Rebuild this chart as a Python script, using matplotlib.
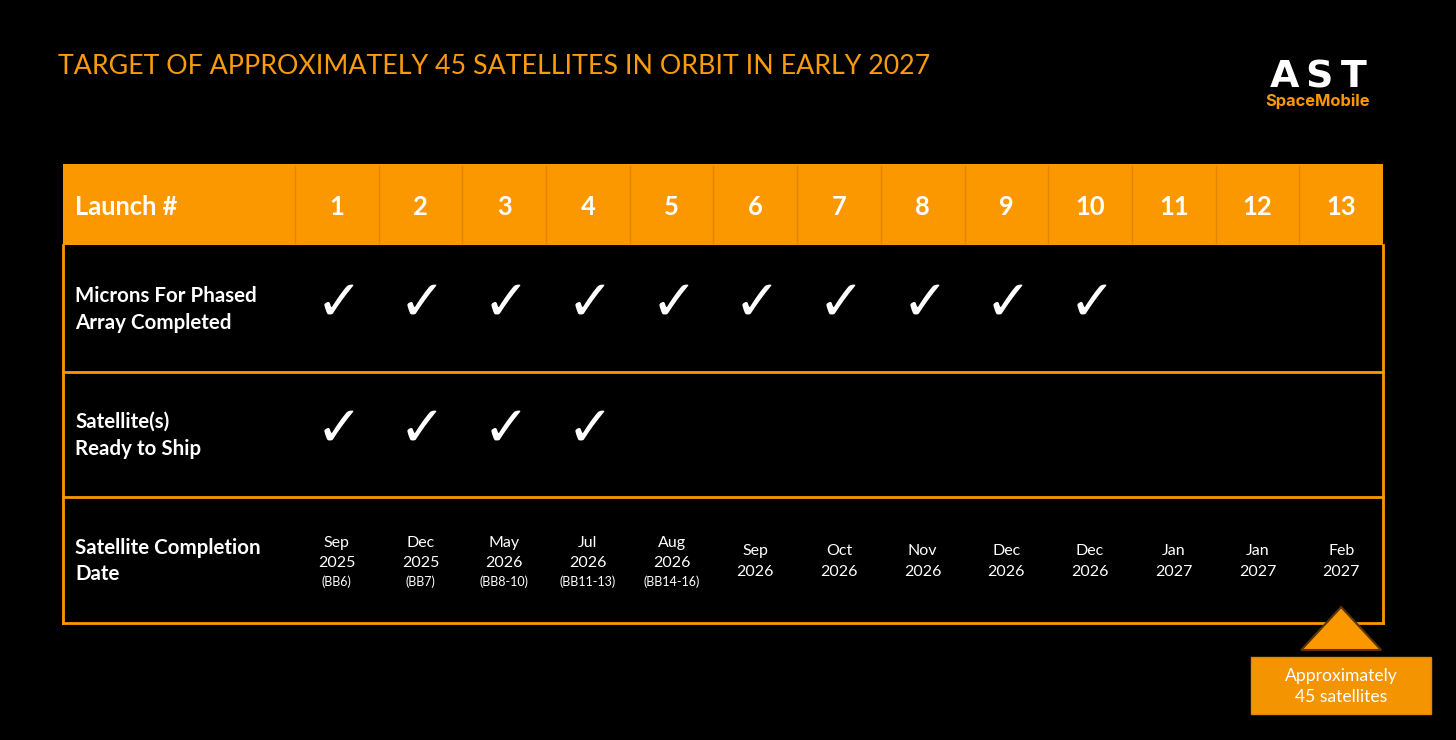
import matplotlib
matplotlib.use("Agg")
import matplotlib.pyplot as plt
from matplotlib.patches import Rectangle, Polygon

plt.rcParams['font.family'] = ['Lato', 'DejaVu Sans']

# ---------------- data ----------------
title = "TARGET OF APPROXIMATELY 45 SATELLITES IN ORBIT IN EARLY 2027"
launches = [str(i) for i in range(1, 14)]
row_labels = [["Microns For Phased", "Array Completed"],
              ["Satellite(s)", "Ready to Ship"],
              ["Satellite Completion", "Date"]]
microns_done = [1, 1, 1, 1, 1, 1, 1, 1, 1, 1, 0, 0, 0]
ready_to_ship = [1, 1, 1, 1, 0, 0, 0, 0, 0, 0, 0, 0, 0]
completion_months = ["Sep", "Dec", "May", "Jul", "Aug", "Sep", "Oct", "Nov",
                     "Dec", "Dec", "Jan", "Jan", "Feb"]
completion_years = ["2025", "2025", "2026", "2026", "2026", "2026", "2026", "2026",
                    "2026", "2026", "2027", "2027", "2027"]
bb_labels = ["(BB6)", "(BB7)", "(BB8-10)", "(BB11-13)", "(BB14-16)",
             "", "", "", "", "", "", "", ""]
callout = ["Approximately", "45 satellites"]
logo_letters = ["A", "S", "T"]

# ---------------- style ----------------
ORANGE = "#FB9800"
TITLE_OR = "#F99B0C"
W, H = 1456, 740
fig = plt.figure(figsize=(W / 100, H / 100), dpi=100, facecolor="black")
ax = fig.add_axes([0, 0, 1, 1])
ax.set_xlim(0, W)
ax.set_ylim(H, 0)
ax.axis("off")
ax.set_facecolor("black")

def pt(px):
    return px * 0.72

# title
ax.text(58, 66, title, color=TITLE_OR, fontsize=pt(26.8), ha="left", va="center")

# logo
for k, ch in enumerate(logo_letters):
    ax.text(1284 + 35 * k, 87, ch, color="white", fontsize=pt(38), fontweight="bold",
            ha="center", va="baseline", family=["DejaVu Sans"])
ax.text(1318, 106, "SpaceMobile", color=ORANGE, fontsize=pt(16.5), fontweight="bold",
        ha="center", va="baseline", family=["Inter", "DejaVu Sans"])

# table geometry
left, right = 63, 1383
ncol = len(launches)
cw = (right - 295) / ncol
header_top, header_bot = 164, 245
row_edges = [245, 372, 497, 623]

def cx(i):
    return 295 + cw * (i + 0.5)

# header
ax.add_patch(Rectangle((left, header_top), right - left, header_bot - header_top,
                       facecolor=ORANGE, edgecolor="none", zorder=1))
for i in range(ncol):
    x = 295 + cw * i
    ax.plot([x, x], [header_top + 2, header_bot - 2], color="#E08700", lw=1.0, zorder=2)
ax.text(75, 207, "Launch #", color="white", fontsize=pt(25.5), fontweight="bold",
        ha="left", va="center", zorder=3)
for i, lab in enumerate(launches):
    ax.text(cx(i), 207, lab, color="white", fontsize=pt(25.5), fontweight="bold",
            ha="center", va="center", zorder=3)

# body border and separators
ax.plot([left, left], [header_bot, row_edges[-1]], color=ORANGE, lw=2, zorder=2)
ax.plot([right, right], [header_bot, row_edges[-1]], color=ORANGE, lw=2, zorder=2)
for y in row_edges[1:]:
    ax.plot([left, right], [y, y], color=ORANGE, lw=2, zorder=2)

# row labels
for r, lines in enumerate(row_labels):
    yc = (row_edges[r] + row_edges[r + 1]) / 2 + 1
    for k, line in enumerate(lines):
        ax.text(75, yc + (k - 0.5) * 27, line, color="white", fontsize=pt(20.5),
                fontweight="bold", ha="left", va="center", zorder=3)

# checkmarks
for r, vals in enumerate([microns_done, ready_to_ship]):
    yc = (row_edges[r] + row_edges[r + 1]) / 2 - 4
    for i, v in enumerate(vals):
        if v:
            ax.text(cx(i) + 2, yc, "\u2713", color="white", fontsize=pt(56),
                    fontweight="bold", ha="center", va="center",
                    family=["DejaVu Sans"], zorder=3)

# completion dates
for i, (m, yr, bb) in enumerate(zip(completion_months, completion_years, bb_labels)):
    if bb:
        ax.text(cx(i), 543, m, color="white", fontsize=pt(16), ha="center", va="center", zorder=3)
        ax.text(cx(i), 563, yr, color="white", fontsize=pt(16), ha="center", va="center", zorder=3)
        ax.text(cx(i), 582, bb, color="white", fontsize=pt(12.5), ha="center", va="center", zorder=3)
    else:
        ax.text(cx(i), 551, m, color="white", fontsize=pt(16), ha="center", va="center", zorder=3)
        ax.text(cx(i), 572, yr, color="white", fontsize=pt(16), ha="center", va="center", zorder=3)

# callout triangle and box
tri_c = cx(ncol - 1)
ax.add_patch(Polygon([[tri_c, 607], [tri_c - 40, 650], [tri_c + 40, 650]],
                     closed=True, facecolor=ORANGE, edgecolor="#5A3300", lw=1.5, zorder=4))
ax.add_patch(Rectangle((1251, 657), 180, 57, facecolor="#F39400", edgecolor="#E08600",
                       lw=1, zorder=4))
for k, line in enumerate(callout):
    ax.text(1341, 676 + 21 * k, line, color="white", fontsize=pt(17.5),
            ha="center", va="center", zorder=5)

fig.savefig("out.png", dpi=100, facecolor="black")
